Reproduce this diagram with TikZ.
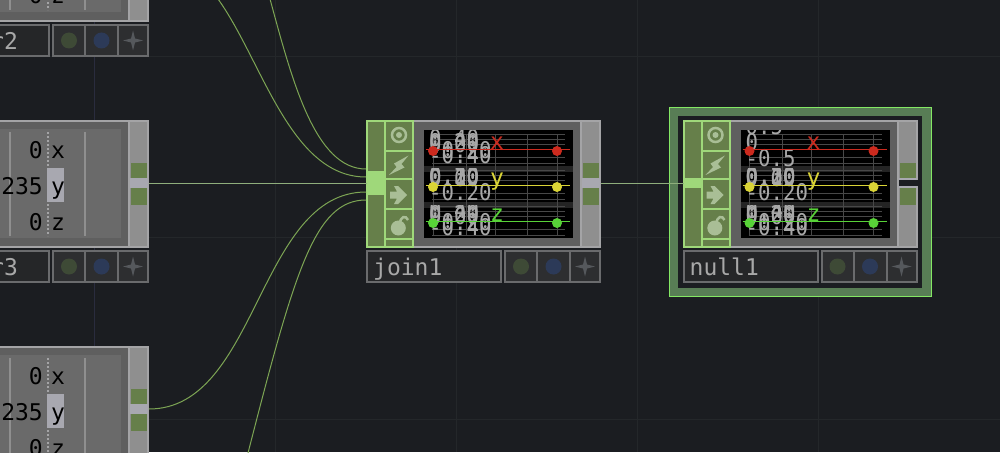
\documentclass[tikz,border=0pt]{standalone}
\usepackage{fontspec}
\setmonofont{DejaVu Sans Mono}
\usetikzlibrary{positioning}
\definecolor{bgDark}{HTML}{1B1D21}
\definecolor{gridDark}{HTML}{24272A}
\definecolor{gridBlue}{HTML}{2A2C3E}
\definecolor{wireGreen}{HTML}{7DA554}
\definecolor{wirePale}{HTML}{8FAE7C}
\definecolor{flagLight}{HTML}{9FD87A}
\definecolor{flagDark}{HTML}{667F4A}
\definecolor{iconLight}{HTML}{A9BE96}
\definecolor{haloLine}{HTML}{84E864}
\definecolor{haloFill}{HTML}{587D55}
\definecolor{frameGray}{HTML}{A4A4A6}
\definecolor{bodyGray}{HTML}{5F5F5F}
\definecolor{panelGray}{HTML}{6A6A6A}
\definecolor{stripGray}{HTML}{8F8F8F}
\definecolor{gapGray}{HTML}{A8A8B0}
\definecolor{tagLine}{HTML}{6A6B6D}
\definecolor{tagFill}{HTML}{252628}
\definecolor{btnFill}{HTML}{2D2E30}
\definecolor{btnGreen}{HTML}{3E4A36}
\definecolor{btnBlue}{HTML}{2C3A58}
\definecolor{btnStar}{HTML}{55585C}
\definecolor{chopRed}{HTML}{CC2A1E}
\definecolor{chopYellow}{HTML}{DAD436}
\definecolor{chopGreen}{HTML}{58D238}
\definecolor{viewGrid}{HTML}{484848}
\definecolor{viewBand}{HTML}{242424}
\definecolor{viewText}{HTML}{A8A8A8}
\newcommand{\fontBig}{\ttfamily\fontsize{23}{23}\selectfont}
\tikzset{
  wire/.style={draw=wireGreen, line width=1pt},
  wireP/.style={draw=wirePale, line width=1pt},
  boxN/.style={rectangle, anchor=north west, inner sep=0pt, outer sep=0pt},
  boxFrame/.style={boxN, draw=frameGray, fill=bodyGray, line width=2pt},
  boxFlag/.style={boxN, draw=flagLight, fill=flagDark, line width=2pt},
  boxTag/.style={boxN, draw=tagLine, fill=tagFill, line width=2pt},
  boxBtn/.style={boxN, draw=tagLine, fill=btnFill, line width=2pt},
  boxOut/.style={boxN, fill=flagDark, minimum width=16pt},
  textBig/.style={inner sep=0pt, font=\fontBig},
  textView/.style={inner sep=0pt, anchor=base west, font=\fontBig, text=viewText, xscale=0.9},
  iconLine/.style={draw=iconLight, line width=2.5pt},
}
% name bar and its three buttons, below the frame
\newcommand{\tagbar}[3]{
  \node[boxTag, minimum width=134pt, minimum height=31pt] (#1tag) at (1,131) {};
  \node[textBig, anchor=base west, text=viewText] (#1name) at (#3,155) {#2};
  \node[boxBtn, minimum width=32pt, minimum height=31pt] (#1btnA) at (139,131) {};
  \node[boxBtn, minimum width=33pt, minimum height=31pt] (#1btnB) at (171,131) {};
  \node[boxBtn, minimum width=30pt, minimum height=31pt] (#1btnC) at (204,131) {};
  \fill[btnGreen] (#1btnA.center) circle (8pt);
  \fill[btnBlue] (#1btnB.center) circle (8pt);
  \fill[btnStar, shift={(#1btnC.center)}] (0,-10) -- (2,-2) -- (10,0) -- (2,2)
    -- (0,10) -- (-2,2) -- (-10,0) -- (-2,-2) -- cycle;
}
% grey frame with the output strip on its right
\newcommand{\opframe}[1]{
  \node[boxFrame, minimum width=233pt, minimum height=126pt] (#1) at (1,1) {};
  \node[boxN, draw=frameGray, fill=stripGray, line width=2pt,
        minimum width=19pt, minimum height=126pt] (#1strip) at (215,1) {};
  \node[boxN, fill=gapGray, minimum width=18pt, minimum height=10pt] (#1gap) at (216,58) {};
  \node[boxOut, minimum height=15pt] (#1outA) at (217,43) {};
  \node[boxOut, minimum height=17pt] (#1outB) at (217,68) {};
  \coordinate (#1out) at (235,63);
}
% green flag panel on the left
\newcommand{\flagstrip}[3]{
  \node[boxFlag, minimum width=18pt, minimum height=126pt] (#1flags) at (1,1) {};
  \node[boxN, fill=flagLight, minimum width=18pt, minimum height=#3pt] (#1in) at (1,#2) {};
  \node[boxFlag, minimum width=28pt, minimum height=30pt] (#1cellA) at (19,1) {};
  \node[boxFlag, minimum width=28pt, minimum height=28pt] (#1cellB) at (19,31) {};
  \node[boxFlag, minimum width=28pt, minimum height=30pt] (#1cellC) at (19,59) {};
  \node[boxFlag, minimum width=28pt, minimum height=30pt] (#1cellD) at (19,89) {};
  \node[boxFlag, minimum width=28pt, minimum height=8pt] (#1cellE) at (19,119) {};
  \draw[iconLine] (33,15) circle (7pt);
  \fill[iconLight] (33,15) circle (3pt);
  \fill[iconLight] (42.5,35.5) -- (28,43.5) -- (30.5,47) -- (23,55) -- (38.5,47.5) -- (35.5,44) -- cycle;
  \fill[iconLight] (24,71.5) -- (31,71.5) -- (28,66) -- (32,66) -- (41,75) -- (32,84)
    -- (28,84) -- (31,78.5) -- (24,78.5) -- cycle;
  \fill[iconLight] (32.3,108) circle (7.5pt);
  \draw[iconLine] (34,104) .. controls (34,96) and (40,95) .. (42,100);
}
% black viewer, #2 holds the labels of its first row
\newcommand{\chopview}[2]{
  \node[boxN, fill=black, minimum width=149pt, minimum height=108pt] (#1view) at (58,10) {};
  \fill[viewBand] (58,46) rectangle (207,52);
  \fill[viewBand] (58,82) rectangle (207,88);
  \foreach \col in {67,100,129,161,191} {
    \draw[viewGrid, line width=1pt] (\col,14) -- (\col,116);
  }
  \foreach \row in {29,65,101} {
    \foreach \off in {-15,-10,-5,8,14} {
      \draw[viewGrid, line width=1pt] (66,\row+\off) -- (199,\row+\off);
    }
  }
  \begin{scope}
    \clip (58,10) rectangle (207,46);
    \foreach \lab/\bas in {#2} {
      \node[textView] at (63,\bas) {\lab};
    }
  \end{scope}
  \begin{scope}
    \clip (58,48) rectangle (207,84);
    \foreach \lab/\bas in {0.30/63,0.20/64,0.10/65,0.00/66,-0.20/80} {
      \node[textView] at (63,\bas) {\lab};
    }
  \end{scope}
  \begin{scope}
    \clip (58,85) rectangle (207,118);
    \foreach \lab/\bas in {0.40/98,0.20/102,0.00/104,-0.20/110,-0.40/115} {
      \node[textView] at (63,\bas) {\lab};
    }
  \end{scope}
  \foreach \row/\colr/\lett in {29/chopRed/x,65/chopYellow/y,101/chopGreen/z} {
    \draw[\colr, line width=1pt] (60,\row) -- (204,\row);
    \fill[\colr] (67,\row+2) circle (5pt);
    \fill[\colr] (191,\row+2) circle (5pt);
    \node[textBig, anchor=base, text=\colr] at (131,\row) {\lett};
  }
}
% parameter columns of the constant nodes
\newcommand{\chanlist}[2]{
  \node[boxN, fill=panelGray, minimum width=200pt, minimum height=109pt] (#1list) at (7,9) {};
  \foreach \col in {96,171} {
    \draw[stripGray, line width=2pt] (\col,12) -- (\col,116);
  }
  \draw[frameGray, line width=2pt, dotted] (134,12) -- (134,116);
  \node[boxN, fill=gapGray, minimum width=17pt, minimum height=34pt] (#1mark) at (133,48) {};
  \foreach \val/\lett/\bas in {0/x/38,#2/y/74,0/z/110} {
    \node[textBig, anchor=base east, text=black] at (129,\bas) {\val};
    \node[textBig, anchor=base west, text=black] at (137,\bas) {\lett};
  }
}
\begin{document}
\begin{tikzpicture}[x=1pt, y=-1pt]
  \useasboundingbox (0,0) rectangle (1000,452);
  \clip (0,0) rectangle (1000,452);
  \fill[bgDark] (0,0) rectangle (1000,452);
  \foreach \col in {275,456,637,818} {
    \draw[gridDark, line width=1pt] (\col,0) -- (\col,452);
  }
  \draw[gridBlue, line width=1pt] (94.5,0) -- (94.5,452);
  \foreach \row in {57,237,419} {
    \draw[gridDark, line width=1pt] (0,\row) -- (1000,\row);
  }

  % constant nodes, cut by the left edge
  \begin{scope}[shift={(-86,-106)}]
    \opframe{r2} \chanlist{r2}{235} \tagbar{r2}{r2}{76}
  \end{scope}
  \begin{scope}[shift={(-86,120)}]
    \opframe{r3} \chanlist{r3}{235} \tagbar{r3}{r3}{76}
  \end{scope}
  \begin{scope}[shift={(-86,346)}]
    \opframe{r4} \chanlist{r4}{235}
  \end{scope}

  \begin{scope}[shift={(366,120)}]
    \opframe{join1}
    \flagstrip{join1}{51}{24}
    \chopview{join1}{0.40/26,0.20/30,0.00/32,-0.20/38,-0.40/43}
    \tagbar{join1}{join1}{7}
  \end{scope}

  \node[boxN, draw=haloLine, fill=haloFill, line width=1pt,
        minimum width=262pt, minimum height=189pt] (halo) at (669.5,107.5) {};
  \node[boxN, fill=bgDark, minimum width=244pt, minimum height=172pt] (haloIn) at (678,116) {};
  \begin{scope}[shift={(682.5,120)}]
    \opframe{null1}
    \node[boxN, fill=bgDark, minimum width=20pt, minimum height=6pt] (null1notch) at (216,60) {};
    \flagstrip{null1}{58}{10}
    \chopview{null1}{0.5/14,0/30,-0.5/46}
    \tagbar{null1}{null1}{7}
  \end{scope}

  \coordinate (topA) at (218,-1);
  \coordinate (topB) at (270,-1);
  \coordinate (lowD) at (248,453);
  \coordinate (join1a) at (366,169);
  \coordinate (join1b) at (366,177);
  \coordinate (join1c) at (366,192);
  \coordinate (join1d) at (366,200);

  \draw[wire] (topB) .. controls (292,80) and (315,169) .. (join1a);
  \draw[wire] (topA) .. controls (262,60) and (290,177) .. (join1b);
  \draw[wireP] (r3out) -- (join1in.west);
  \draw[wire] (r4out) .. controls (258,409) and (258,192) .. (join1c);
  \draw[wire] (lowD) .. controls (295,270) and (315,200) .. (join1d);
  \draw[wireP] (join1out) -- (null1in.west);
\end{tikzpicture}
\end{document}
